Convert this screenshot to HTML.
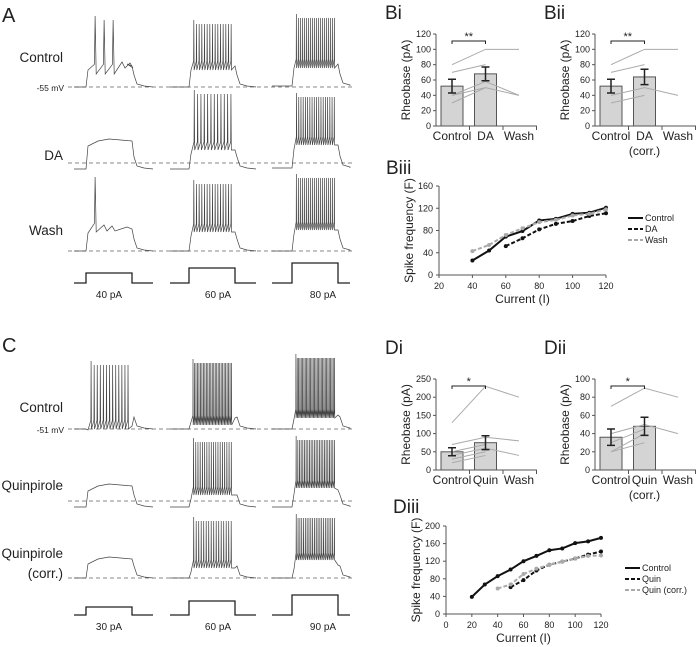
<!DOCTYPE html>
<html><head><meta charset="utf-8"><style>
html,body{margin:0;padding:0;background:#fff;}
svg{display:block;font-family:"Liberation Sans",sans-serif;}
</style></head><body>
<svg id="fig" width="700" height="647" viewBox="0 0 700 647" xmlns="http://www.w3.org/2000/svg">
<g id="traces"></g>
<g id="charts"></g>
</svg>
<script>
// ---- Bar chart data ----
const biCats = ["Control","DA","Wash"];
const biMeans = [52,68];
const biErr = [9,9];
const biLines = [[80,100,100],[70,80,null],[40,58,40],[40,50,40],[30,50,null]];
const biiCats = ["Control","DA","Wash"];
const biiMeans = [52,64];
const biiErr = [9,10];
const biiLines = [[80,100,100],[70,80,null],[40,50,40],[30,40,null]];
const diCats = ["Control","Quin","Wash"];
const diMeans = [50,75];
const diErr = [11,19];
const diLines = [[130,230,200],[70,90,80],[50,70,null],[40,60,40],[30,50,null],[20,40,null]];
const diiCats = ["Control","Quin","Wash"];
const diiMeans = [36,48];
const diiErr = [9,10];
const diiLines = [[70,90,80],[40,50,40],[30,45,null],[20,40,null],[20,30,null]];
// ---- Line chart data ----
const biiiX = [40,50,60,70,80,90,100,110,120];
const biiiControl = [26,44,69,79,98,101,110,112,121];
const biiiDA = [null,null,52,66,82,92,97,106,111];
const biiiWash = [43,54,72,84,95,99,107,110,118];
const diiiX = [20,30,40,50,60,70,80,90,100,110,120];
const diiiControl = [39,67,86,101,120,132,145,149,161,165,173];
const diiiQuin = [null,null,null,61,77,99,112,119,126,135,142];
const diiiCorr = [null,null,58,67,91,103,112,119,126,132,133];

const NS="http://www.w3.org/2000/svg";
function mk(tag,attrs,parent,text){const e=document.createElementNS(NS,tag);for(const k in attrs)e.setAttribute(k,attrs[k]);if(text!==undefined)e.textContent=text;parent.appendChild(e);return e;}
const T=document.getElementById('traces');
const C=document.getElementById('charts');

function txt(x,y,s,size,anchor,parent,name,rot){
  const e=mk('text',{x:x,y:y,'font-size':size,'text-anchor':anchor||'start',fill:'#222'},parent||C,s);
  if(rot) e.setAttribute('transform','rotate(-90 '+x+' '+y+')');
  
  
  return e;
}

// ---- traces ----
function trace(x0,x1,s0,s1,base,plat,n,top,trough,name){
  let d='M'+x0+' '+base+' L'+s0+' '+base+' L'+(s0+2)+' '+(plat+4);
  if(n>0){
    const sp=n<=3?9:(s1-s0-6)/n;
    let xs=s0+3;
    for(let i=0;i<n;i++){
      const tp=(i===0)?top-2:top+2;
      const pre=trough-(trough-plat)*0.2-8;
      d+=' L'+(xs+sp*0.6)+' '+pre+' L'+(xs+sp*0.68)+' '+tp+' L'+(xs+sp*0.8)+' '+trough;
      xs+=sp;
    }
    if(n<=3){d+=' L'+(xs+6)+' '+(plat-4)+' L'+(xs+9)+' '+(plat+2)+' L'+(xs+14)+' '+(plat-3)+' L'+(xs+17)+' '+(plat+2)+' L'+(s1-5)+' '+(plat-2);}
    d+=' L'+s1+' '+plat;
  } else {
    d+=' L'+(s0+12)+' '+(plat-1)+' L'+((s0+s1)/2)+' '+(plat-3)+' L'+s1+' '+(plat-1);
  }
  d+=' L'+(s1+2)+' '+(base-12)+' L'+(s1+5)+' '+(base-3)+' L'+(s1+12)+' '+(base-1)+' L'+x1+' '+base;
  const p=mk('path',{d:d,fill:'none',stroke:'#444','stroke-width':0.7},T);
  
  
}
function dashed(y,x0,name){const l=mk('line',{x1:x0,y1:y,x2:352,y2:y,stroke:'#888','stroke-dasharray':'4,3','stroke-width':1},T);
  
  }
function step(x0,x1,s0,s1,base,top,name){const p=mk('path',{d:'M'+x0+' '+base+' L'+s0+' '+base+' L'+s0+' '+top+' L'+s1+' '+top+' L'+s1+' '+base+' L'+x1+' '+base,fill:'none',stroke:'#222','stroke-width':1.3},T);
  
  }
const cols=[[74,153,86,132],[170,256,189,235],[272,350,292,338]];
// Panel A
txt(2,22,'A',20,'start',T,'panel-label-a');
dashed(87,68,'baseline-control-a');dashed(163,68,'baseline-da');dashed(251,68,'baseline-wash');
txt(63,62,'Control',13.5,'end',T,'row-label-control-a');
txt(64,91,'-55 mV',8.5,'end',T,'resting-potential-a');
txt(63,160,'DA',13.5,'end',T,'row-label-da');
txt(63,235,'Wash',13.5,'end',T,'row-label-wash');
const A=[[[87,66,3,18,74],[87,66,15,22,70],[86,64,20,16,68]],
         [[169,142,0,0,0],[169,150,12,92,150],[168,145,18,95,145]],
         [[251,229,1,179,232],[251,232,15,182,232],[251,230,20,176,230]]];
A.forEach((r,ri)=>r.forEach((p,ci)=>{const c=cols[ci];trace(c[0],c[1],c[2],c[3],p[0],p[1],p[2],p[3],p[4],'trace-a-'+ri+'-'+ci);}));
[273,268,263].forEach((t,ci)=>{const c=cols[ci];step(c[0],c[1],c[2],c[3],283,t,'current-step-a-'+ci);});
['40 pA','60 pA','80 pA'].forEach((s,i)=>txt([109,218,323][i],298,s,10,'middle',T,'step-label-a-'+i));
// Panel C
txt(2,352,'C',20,'start',T,'panel-label-c');
dashed(429,68,'baseline-control-c');dashed(501,68,'baseline-quin');dashed(578,68,'baseline-quin-corr');
txt(63,412,'Control',13.5,'end',T,'row-label-control-c');
txt(64,433,'-51 mV',8.5,'end',T,'resting-potential-c');
txt(63,490,'Quinpirole',13.5,'end',T,'row-label-quinpirole');
txt(63,558,'Quinpirole',13.5,'end',T,'row-label-quinpirole-corr');
txt(63,578,'(corr.)',13.5,'end',T,'row-label-corr');
const Cc=[[[429,426,13,363,429],[429,418,27,361,425],[429,415,30,356,418]],
          [[507,487,0,0,0],[507,495,18,440,495],[507,490,24,438,488]],
          [[578,560,0,0,0],[578,568,16,519,568],[578,565,22,516,560]]];
Cc.forEach((r,ri)=>r.forEach((p,ci)=>{const c=cols[ci];trace(c[0],c[1],c[2],c[3],p[0],p[1],p[2],p[3],p[4],'trace-c-'+ri+'-'+ci);}));
[607,601,595].forEach((t,ci)=>{const c=cols[ci];step(c[0],c[1],c[2],c[3],615,t,'current-step-c-'+ci);});
['30 pA','60 pA','90 pA'].forEach((s,i)=>txt([109,218,323][i],630,s,10,'middle',T,'step-label-c-'+i));

// ---- bar charts ----
function barChart(o){
  const g=mk('g',{},C);
  
  
  const y=v=>o.y0-(v/o.max)*(o.y0-o.yTop);
  const cx=i=>o.ax+16+i*33.5;
  txt(o.ax-51,o.titleY,o.title,19,'start',g,o.name+'-title');
  mk('line',{x1:o.ax,y1:o.y0,x2:o.ax,y2:o.yTop,stroke:'#555','stroke-width':1},g);
  o.ticks.forEach(t=>{mk('line',{x1:o.ax-3,y1:y(t),x2:o.ax,y2:y(t),stroke:'#555'},g);txt(o.ax-5,y(t)+3,String(t),9,'end',g,'y-tick-label');});
  mk('line',{x1:o.ax,y1:o.y0,x2:o.ax+101,y2:o.y0,stroke:'#555'},g);
  [1,2,3].forEach(i=>mk('line',{x1:o.ax+i*33.5,y1:o.y0,x2:o.ax+i*33.5,y2:o.y0+4,stroke:'#555'},g));
  o.cats.forEach((c,i)=>txt(cx(i),o.y0+14,c,12,'middle',g,'x-category-label'));
  if(o.sub) txt(cx(1),o.y0+29,o.sub,12,'middle',g,'x-category-sublabel');
  txt(o.ax-26,(o.y0+o.yTop)/2,'Rheobase (pA)',12,'middle',g,'y-axis-title',true);
  o.means.forEach((m,i)=>{const b=mk('rect',{x:cx(i)-11,y:y(m),width:22,height:o.y0-y(m),fill:'#d4d4d4',stroke:'#555','stroke-width':1},g);
    
    });
  o.lines.forEach(l=>{let d='';l.forEach((v,i)=>{if(v!==null)d+=(d?' L':'M')+cx(i)+' '+y(v);});
    const p=mk('path',{d:d,fill:'none',stroke:'#aaa','stroke-width':1},g);
    
    });
  o.means.forEach((m,i)=>{const x=cx(i),a=y(m+o.err[i]),b=y(m-o.err[i]);
    const p=mk('path',{d:'M'+x+' '+a+' V'+b+' M'+(x-4)+' '+a+' H'+(x+4)+' M'+(x-4)+' '+b+' H'+(x+4),stroke:'#222','stroke-width':1.5,fill:'none'},g);
    
    });
  const by=o.yTop+7;
  mk('path',{d:'M'+cx(0)+' '+(by+3)+' V'+by+' H'+cx(1)+' V'+(by+3),fill:'none',stroke:'#222','stroke-width':1},g);
  txt((cx(0)+cx(1))/2,by-1,o.sig,11,'middle',g,'significance-marker');
}
barChart({name:'chart-bi',title:'Bi',titleY:19,ax:436,y0:126,yTop:34,max:120,ticks:[0,20,40,60,80,100,120],cats:biCats,means:biMeans,err:biErr,lines:biLines,sig:'**'});
barChart({name:'chart-bii',title:'Bii',titleY:19,ax:595,y0:126,yTop:34,max:120,ticks:[0,20,40,60,80,100,120],cats:biiCats,means:biiMeans,err:biiErr,lines:biiLines,sig:'**',sub:'(corr.)'});
barChart({name:'chart-di',title:'Di',titleY:354,ax:436,y0:470,yTop:379,max:250,ticks:[0,50,100,150,200,250],cats:diCats,means:diMeans,err:diErr,lines:diLines,sig:'*'});
barChart({name:'chart-dii',title:'Dii',titleY:354,ax:595,y0:470,yTop:379,max:100,ticks:[0,20,40,60,80,100],cats:diiCats,means:diiMeans,err:diiErr,lines:diiLines,sig:'*',sub:'(corr.)'});

// ---- line charts ----
function lineChart(o){
  const g=mk('g',{},C);
  
  
  const x=v=>o.ax+(v-o.xmin)/(o.xmax-o.xmin)*(o.ax1-o.ax);
  const y=v=>o.y0-v/o.ymax*(o.y0-o.yTop);
  txt(o.ax-53,o.titleY,o.title,19,'start',g,o.name+'-title');
  mk('line',{x1:o.ax,y1:o.y0,x2:o.ax,y2:o.yTop,stroke:'#555'},g);
  mk('line',{x1:o.ax,y1:o.y0,x2:o.ax1,y2:o.y0,stroke:'#555'},g);
  o.yt.forEach(t=>{mk('line',{x1:o.ax-3,y1:y(t),x2:o.ax,y2:y(t),stroke:'#555'},g);txt(o.ax-6,y(t)+3,String(t),9,'end',g,'y-tick-label');});
  o.xt.forEach(t=>{mk('line',{x1:x(t),y1:o.y0,x2:x(t),y2:o.y0+3,stroke:'#555'},g);txt(x(t),o.y0+14,String(t),9,'middle',g,'x-tick-label');});
  txt((o.ax+o.ax1)/2,o.y0+28,'Current (I)',12,'middle',g,'x-axis-title');
  txt(o.ax-26,(o.y0+o.yTop)/2,'Spike frequency (F)',12,'middle',g,'y-axis-title',true);
  o.series.forEach((s,si)=>{let d='';s.v.forEach((v,i)=>{if(v!==null)d+=(d?' L':'M')+x(o.xs[i])+' '+y(v);});
    const p=mk('path',{d:d,fill:'none',stroke:s.c,'stroke-width':2,'stroke-dasharray':s.dash||'none'},g);
    
    
    s.v.forEach((v,i)=>{if(v!==null){const c=mk('circle',{cx:x(o.xs[i]),cy:y(v),r:2,fill:s.c},g);
      
      }});
    const ly=o.legY+si*11;
    mk('line',{x1:o.legX,y1:ly,x2:o.legX+15,y2:ly,stroke:s.c,'stroke-width':2,'stroke-dasharray':s.dash||'none'},g);
    txt(o.legX+17,ly+3,s.n,9,'start',g,'legend-entry');
  });
}
lineChart({name:'chart-biii',title:'Biii',titleY:174,ax:439,ax1:606,y0:275,yTop:186,xmin:20,xmax:120,ymax:160,
  xt:[20,40,60,80,100,120],yt:[0,40,80,120,160],xs:biiiX,legX:628,legY:218,
  series:[{n:'Control',v:biiiControl,c:'#111'},{n:'DA',v:biiiDA,c:'#111',dash:'4,2'},{n:'Wash',v:biiiWash,c:'#aaa',dash:'4,2'}]});
lineChart({name:'chart-diii',title:'Diii',titleY:513,ax:446,ax1:601,y0:614,yTop:526,xmin:0,xmax:120,ymax:200,
  xt:[0,20,40,60,80,100,120],yt:[0,40,80,120,160,200],xs:diiiX,legX:625,legY:568,
  series:[{n:'Control',v:diiiControl,c:'#111'},{n:'Quin',v:diiiQuin,c:'#111',dash:'4,2'},{n:'Quin (corr.)',v:diiiCorr,c:'#aaa',dash:'4,2'}]});
</script>
</body></html>
